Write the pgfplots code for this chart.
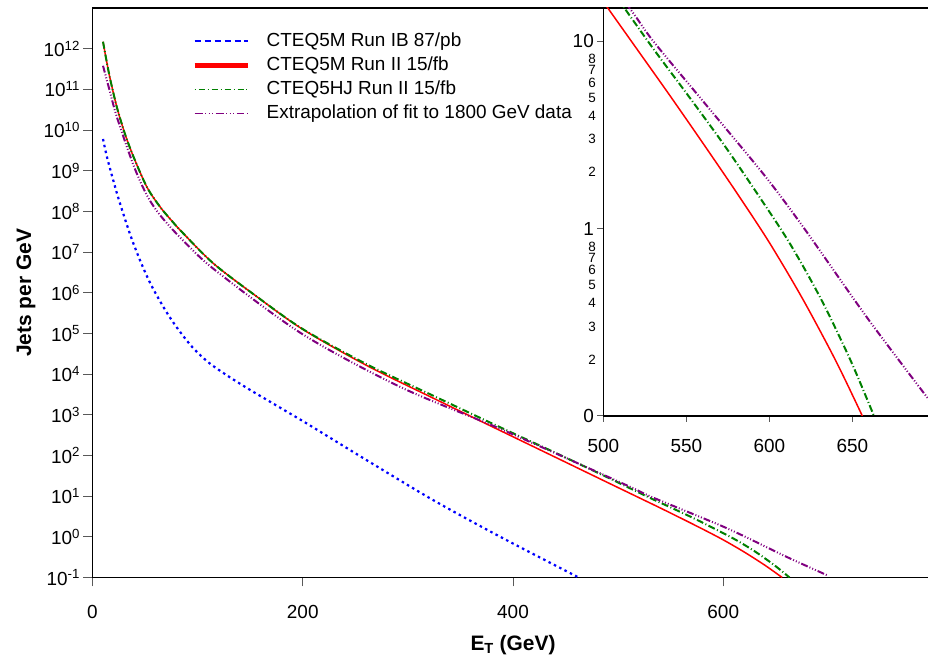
\documentclass[border=0pt]{standalone}
\usepackage{fontspec}
\setmainfont{Liberation Sans}
\usepackage{pgfplots}
\usepackage{pgfplotstable}
\pgfplotsset{compat=1.18}
\definecolor{cblue}{RGB}{0,0,255}
\definecolor{cred}{RGB}{255,0,0}
\definecolor{cgreen}{RGB}{0,128,0}
\definecolor{cpurple}{RGB}{128,0,128}
\newcommand\tf{\fontsize{19}{22}\selectfont}
\newcommand\lf{\fontsize{21}{24}\selectfont}
\newcommand\smallf{\fontsize{13.5}{15}\selectfont}

\pgfplotstableread{
E v
10 6.03e9
13.8 2.14e9
20.2 5.25e8
24.9 2.0e8
31.3 6.03e7
37.6 2.0e7
47.1 4.79e6
56.6 1.41e6
69.3 3.72e5
80.4 1.38e5
94.7 4.68e4
110.6 1.91e4
129.6 8.71e3
148.7 4.27e3
170.9 1.95e3
189.9 1.0e3
207.4 537
261 76
324.4 7.9
387.9 1.0
462.5 0.1
}\bluetab

\pgfplotstableread{
E v
10 1.48e12
16 2.24e11
23.3 3.55e10
31.2 7.6e9
39.2 2.14e9
51.9 3.89e8
64.6 1.26e8
75.7 5.75e7
85.2 3.09e7
115 5.25e6
155 8.5e5
200 1.26e5
261 1.62e4
324 2.57e3
388 407
440 91.2
480 28.8
500 16.2
520 9.12
540 5.13
560 2.85
580 1.567
600 0.841
620 0.422
640 0.197
656 0.1
}\redtab

\pgfplotstableread{
E v
10 1.48e12
16 2.24e11
23.3 3.55e10
31.2 7.6e9
39.2 2.14e9
51.9 3.89e8
64.6 1.26e8
75.7 5.75e7
85.2 3.09e7
115 5.25e6
155 8.5e5
200 1.28e5
261 1.74e4
324 2.95e3
388 490
440 117.5
490 28.8
510 16.2
530 9.12
551 5.13
572 2.85
592 1.567
612 0.841
631 0.422
649 0.197
663 0.1
}\greentab

\pgfplotstableread{
E v
10 3.8e11
16 1.0e11
23.3 2.04e10
39.2 1.32e9
51.9 2.45e8
64.6 7.9e7
85.2 2.04e7
116.9 3.55e6
200 9.5e4
293 4.8e3
388 4.5e2
483 36.3
516 14.9
530 10
560 4.78
597 1.923
621 1.0
660 0.324
700 0.11
}\purpletab

\begin{document}
\begin{tikzpicture}[x=1bp,y=1bp]
\useasboundingbox (0,0) rectangle (928,662);
\clip (0,0) rectangle (928,662);
\begin{axis}[
  at={(92.5bp,84.5bp)}, anchor=south west,
  scale only axis, width=841bp, height=569.5bp,
  xmin=0, xmax=800, ymode=log, ymin=1e-1, ymax=1e13,
  axis line style={line width=1.2pt},
  tick pos=left, tick align=outside,
  major tick length=9bp,
  tick style={line width=1pt, black!65},
  yminorticks=false,
  xtick={0,200,400,600}, xticklabels={0,200,400,600},
  ytick={1e-1,1e0,1e1,1e2,1e3,1e4,1e5,1e6,1e7,1e8,1e9,1e10,1e11,1e12},
  yticklabels={10\textsuperscript{-1},10\textsuperscript{0},10\textsuperscript{1},10\textsuperscript{2},10\textsuperscript{3},10\textsuperscript{4},10\textsuperscript{5},10\textsuperscript{6},10\textsuperscript{7},10\textsuperscript{8},10\textsuperscript{9},10\textsuperscript{10},10\textsuperscript{11},10\textsuperscript{12}},
  ticklabel style={font=\tf},
  xticklabel style={yshift=-15bp},
  xlabel={\textbf{E\textsubscript{T} (GeV)}},
  ylabel={\textbf{Jets per GeV}},
  xlabel style={font=\lf, at={(axis description cs:0.5,-0.1185)}, anchor=center},
  ylabel style={font=\lf, at={(axis description cs:-0.079,0.5)}, anchor=center},
  legend cell align=left,
  legend style={at={(rel axis cs:0.1183,0.9587)}, anchor=north west, draw=none, fill=none,
    inner sep=0pt, font=\tf, row sep=5bp, column sep=16bp,
    nodes={inner sep=0.5bp, text height=14bp, text depth=4bp}},
]
\addplot[cblue, line width=2.2pt, dash pattern=on 2.5pt off 3.5pt, smooth,
  legend image code/.code={\draw[cblue,line width=1.6pt,dash pattern=on 6pt off 4pt] (0bp,0bp)--(53bp,0bp);}]
  table[x=E,y=v]{\bluetab};
\addlegendentry{CTEQ5M Run IB 87/pb}
\addplot[cred, line width=1.5pt, smooth,
  legend image code/.code={\draw[cred,line width=5pt] (0bp,0bp)--(53bp,0bp);}]
  table[x=E,y=v]{\redtab};
\addlegendentry{CTEQ5M Run II 15/fb}
\addplot[cgreen, line width=2pt, dash pattern=on 7pt off 2.5pt on 1pt off 2.5pt, smooth,
  legend image code/.code={\draw[cgreen,line width=1.2pt,dash pattern=on 1pt off 3pt on 6pt off 3pt] (0bp,0bp)--(53bp,0bp);}]
  table[x=E,y=v]{\greentab};
\addlegendentry{CTEQ5HJ Run II 15/fb}
\addplot[cpurple, line width=2pt, dash pattern=on 7pt off 2pt on 1pt off 2pt on 1pt off 2pt on 1pt off 2pt, smooth,
  legend image code/.code={\draw[cpurple,line width=1.2pt,dash pattern=on 8pt off 2.5pt on 1pt off 2.5pt on 1pt off 2.5pt on 1pt off 2.5pt] (0bp,0bp)--(53bp,0bp);}]
  table[x=E,y=v]{\purpletab};
\addlegendentry{Extrapolation of fit to 1800 GeV data}
\end{axis}

\begin{axis}[
  at={(603.3bp,246bp)}, anchor=south west,
  scale only axis, width=332.1bp, height=408bp,
  xmin=500, xmax=700, ymode=log, ymin=0.1, ymax=15,
  axis background/.style={fill=white},
  axis line style={line width=1.2pt},
  tick pos=left, tick align=outside,
  major tick length=6bp,
  tick style={line width=1pt, black!65},
  yminorticks=false,
  xtick={500,550,600,650}, xticklabels={500,550,600,650},
  ytick={0.1,1,10}, yticklabels={0,1,10},
  ticklabel style={font=\tf},
  xticklabel style={yshift=-14bp},
  extra y ticks={0.2,0.3,0.4,0.5,0.6,0.7,0.8,2,3,4,5,6,7,8},
  extra y tick labels={2,3,4,5,6,7,8,2,3,4,5,6,7,8},
  extra y tick style={major tick length=0pt, yticklabel style={font=\smallf, xshift=-4bp}},
]
\addplot[cred, line width=1.5pt, smooth] table[x=E,y=v]{\redtab};
\addplot[cgreen, line width=2pt, dash pattern=on 7pt off 2.5pt on 1pt off 2.5pt, smooth] table[x=E,y=v]{\greentab};
\addplot[cpurple, line width=2pt, dash pattern=on 7pt off 2pt on 1pt off 2pt on 1pt off 2pt on 1pt off 2pt, smooth] table[x=E,y=v]{\purpletab};
\end{axis}
\end{tikzpicture}
\end{document}
